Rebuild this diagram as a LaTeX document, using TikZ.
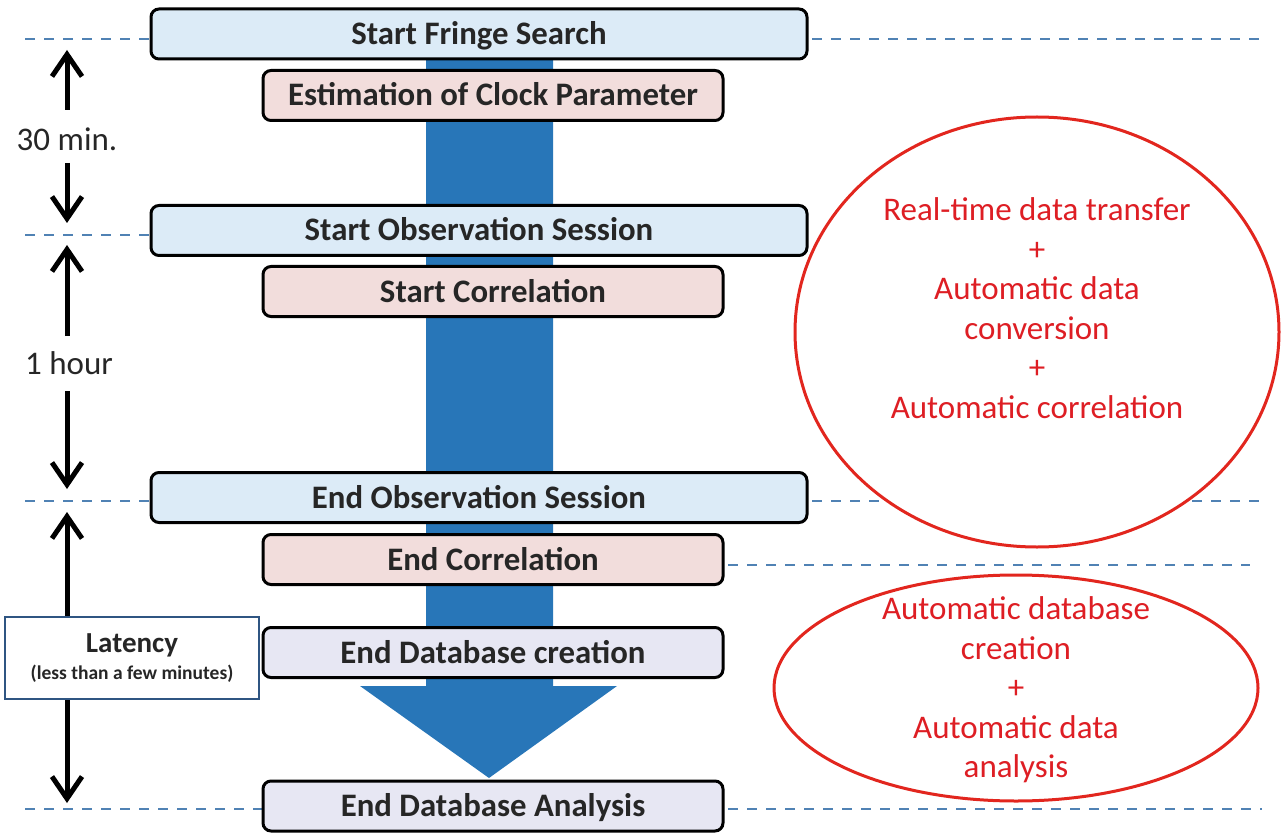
\documentclass[tikz,border=0pt]{standalone}
\usepackage{fontspec}
\setmainfont{Carlito}
\usetikzlibrary{arrows.meta,shapes.geometric}
\definecolor{shaftblue}{RGB}{40,118,184}
\definecolor{boxblue}{RGB}{220,235,247}
\definecolor{boxpink}{RGB}{242,221,220}
\definecolor{boxlav}{RGB}{231,231,243}
\definecolor{dashblue}{RGB}{80,130,180}
\definecolor{ovalred}{RGB}{226,38,30}
\definecolor{txtred}{RGB}{222,30,36}
\definecolor{latblue}{RGB}{47,85,130}
\begin{document}
\begin{tikzpicture}[x=1pt,y=-1pt,
  stepbox/.style={draw=black,line width=3pt,rounded corners=8pt,inner sep=0pt,
    text height=21pt,text depth=0pt,
    font=\fontsize{32.8}{38}\selectfont\bfseries,text=black!85},
  widebox/.style={stepbox,fill=boxblue,minimum width=656,minimum height=50},
  pinkbox/.style={stepbox,fill=boxpink,minimum width=460,minimum height=50},
  lavbox/.style={stepbox,fill=boxlav,minimum width=460,minimum height=50},
  timeline/.style={dashblue,line width=2pt,dash pattern=on 10pt off 9pt},
  oval/.style={ellipse,draw=ovalred,line width=3pt,fill=white,inner sep=0pt},
  ovaltext/.style={text=txtred,align=center,font=\fontsize{33}{39.5}\selectfont},
  timearrow/.style={line width=5pt,-{Straight Barb[length=22pt,width=30pt,line width=5pt]}},
  timelabel/.style={font=\fontsize{33}{38}\selectfont,text=black!85}
]
\useasboundingbox (0,0) rectangle (1282,834);

% dashed time lines
\coordinate (l1) at (25,39);
\coordinate (l2) at (25,235);
\coordinate (l3) at (25,501);
\coordinate (l4) at (25,809);
\coordinate (r1) at (1260,39);
\coordinate (r3) at (1262,501);
\coordinate (r35) at (1250,565);
\coordinate (r4) at (1262,809);
\draw[timeline] (l1) -- (150,39);
\draw[timeline] (812,39) -- (r1);
\draw[timeline] (l2) -- (150,235);
\draw[timeline] (l3) -- (150,501);
\draw[timeline] (812,501) -- (r3);
\draw[timeline] (728,565) -- (r35);
\draw[timeline] (l4) -- (262,809);
\draw[timeline] (728,809) -- (r4);

% ovals
\node[oval,minimum width=484,minimum height=430] (o1) at (1037,332) {};
\node[ovaltext] (o1t) at (1037,308) {Real-time data transfer\\+\\Automatic data\\conversion\\+\\Automatic correlation};
\node[oval,minimum width=484,minimum height=226] (o2) at (1016,688) {};
\node[ovaltext] (o2t) at (1016,690) {Automatic database\\creation\\+\\Automatic data\\analysis};

% big blue arrow
\fill[shaftblue] (426,50) -- (553,50) -- (553,686) -- (617,686) -- (489,778)
  -- (360,686) -- (426,686) -- cycle;

% boxes
\node[widebox] (fringe) at (479,34) {Start Fringe Search};
\node[pinkbox] (clock) at (493,95.5) {Estimation of Clock Parameter};
\node[widebox] (sobs) at (479,230.5) {Start Observation Session};
\node[pinkbox] (scor) at (493,291.5) {Start Correlation};
\node[widebox] (eobs) at (479,497.5) {End Observation Session};
\node[pinkbox] (ecor) at (493,559.5) {End Correlation};
\node[lavbox] (edb) at (493,652.5) {End Database creation};
\node[lavbox] (eda) at (493,806) {End Database Analysis};

% left time arrows
\node[timelabel] (t30) at (67,139) {30 min.};
\coordinate (a1t) at (67,50);
\coordinate (a1b) at (67,223);
\draw[timearrow] (67,110) -- (a1t);
\draw[timearrow] (67,163) -- (a1b);

\node[timelabel] (t1h) at (69,363) {1 hour};
\coordinate (a2t) at (67,245);
\coordinate (a2b) at (67,489);
\draw[timearrow] (67,336) -- (a2t);
\draw[timearrow] (67,391) -- (a2b);

\node[draw=latblue,line width=2.5pt,fill=white,minimum width=254,minimum height=82,
  inner sep=0pt,align=center,text=black!85] (lat) at (132,658)
  {{\fontsize{29}{32}\selectfont\bfseries Latency}\\[7pt]
   {\fontsize{19.5}{24}\selectfont\bfseries (less than a few minutes)}};
\coordinate (a3t) at (67,512);
\coordinate (a3b) at (67,803);
\draw[timearrow] (lat.north -| a3t) -- (a3t);
\draw[timearrow] (lat.south -| a3b) -- (a3b);
\end{tikzpicture}
\end{document}
